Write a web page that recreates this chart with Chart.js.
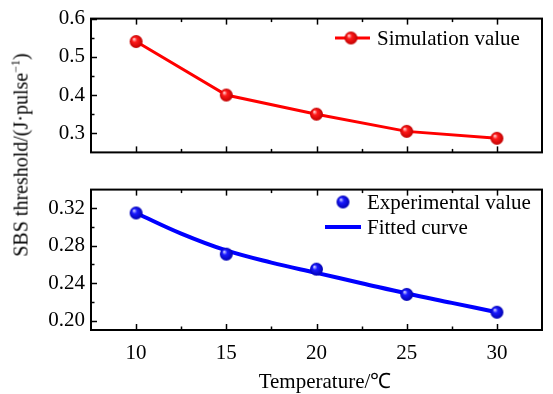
<!DOCTYPE html>
<html lang="en">
<head>
    <meta charset="UTF-8">
    <title>SBS threshold vs temperature</title>
    <script src="https://cdn.jsdelivr.net/npm/chart.js@4"></script>
    <style>
        body { margin: 0; background: #fff; }
        #wrap { position: relative; width: 553px; height: 394px; font-family: 'Times New Roman', 'Liberation Serif', serif; }
        .panel { position: absolute; left: 0; width: 553px; }
        #topPanel { top: 0; height: 171px; }
        #bottomPanel { top: 171px; height: 223px; }
        #yTitle {
            position: absolute; left: 21px; top: 155px; font-size: 20px; white-space: nowrap;
            transform: translate(-50%, -50%) rotate(-90deg);
        }
        #yTitle sup { font-size: 12px; line-height: 0; }
        #xTitle { position: absolute; left: 325px; top: 380px; font-size: 21px; white-space: nowrap; transform: translate(-50%, -50%); }
    </style>
</head>
<body>
    <div id="wrap">
        <div id="topPanel" class="panel"><canvas id="simChart"></canvas></div>
        <div id="bottomPanel" class="panel"><canvas id="expChart"></canvas></div>
        <div id="yTitle">SBS threshold/(J·pulse<sup>−1</sup>)</div>
        <div id="xTitle">Temperature/℃</div>
    </div>

    <script>
        // temperatures (℃)
        const temps = [10, 15, 20, 25, 30];
        // simulated threshold
        const simValues = [0.54, 0.40, 0.35, 0.305, 0.287];
        // measured threshold
        const expValues = [0.315, 0.271, 0.255, 0.228, 0.209];
        // fitted curve sampled along temperature
        const fitTemps = [10, 12.5, 15, 17.5, 20, 22.5, 25, 27.5, 30];
        const fitValues = [0.315, 0.293, 0.275, 0.262, 0.251, 0.240, 0.229, 0.219, 0.209];

        // tick labels
        const xTicks = [10, 15, 20, 25, 30];
        const simTicks = [0.3, 0.4, 0.5, 0.6];
        const expTicks = [0.20, 0.24, 0.28, 0.32];

        const serif = "'Times New Roman', 'Liberation Serif', serif";
        Chart.defaults.font.family = serif;
        Chart.defaults.font.size = 20;
        Chart.defaults.color = '#000';

        // shaded ball used as marker
        function sphere(r, light, mid, dark) {
            const c = document.createElement('canvas');
            const s = r * 2 + 2;
            c.width = c.height = s;
            const g = c.getContext('2d');
            const grad = g.createRadialGradient(s / 2 - r * 0.35, s / 2 - r * 0.4, r * 0.05, s / 2, s / 2, r);
            grad.addColorStop(0, light);
            grad.addColorStop(0.35, mid);
            grad.addColorStop(1, dark);
            g.fillStyle = grad;
            g.beginPath();
            g.arc(s / 2, s / 2, r, 0, Math.PI * 2);
            g.fill();
            return c;
        }
        const redBall = sphere(6.5, '#ffd6d6', '#ff1a1a', '#c00000');
        const blueBall = sphere(6.5, '#d6d6ff', '#1a1aff', '#0000b0');

        const midpoints = arr => arr.slice(1).map((v, i) => (v + arr[i]) / 2);

        // box frame + inward ticks on left, top and bottom
        const frameTicks = {
            id: 'frameTicks',
            afterDraw(chart, args, opts) {
                const { ctx, chartArea: a, scales: { x, y } } = chart;
                const seg = (x0, y0, x1, y1) => { ctx.beginPath(); ctx.moveTo(x0, y0); ctx.lineTo(x1, y1); ctx.stroke(); };
                ctx.save();
                ctx.strokeStyle = '#000';
                ctx.lineWidth = 1.5;
                [[xTicks, 6], [midpoints(xTicks), 3.5]].forEach(([vals, len]) => {
                    vals.forEach(v => {
                        const px = Math.round(x.getPixelForValue(v)) + 0.5;
                        seg(px, a.bottom, px, a.bottom - len);
                        seg(px, a.top, px, a.top + len);
                    });
                });
                [[opts.yTicks, 6], [midpoints(opts.yTicks), 3.5]].forEach(([vals, len]) => {
                    vals.forEach(v => {
                        const py = Math.round(y.getPixelForValue(v)) + 0.5;
                        seg(a.left, py, a.left + len, py);
                    });
                });
                ctx.lineWidth = 2;
                ctx.strokeRect(a.left, a.top, a.right - a.left, a.bottom - a.top);
                ctx.restore();
            }
        };

        // legend drawn by hand: line and/or ball, then label
        const handLegend = {
            id: 'handLegend',
            afterDraw(chart, args, opts) {
                const ctx = chart.ctx;
                ctx.save();
                ctx.font = '21px ' + serif;
                ctx.textBaseline = 'middle';
                ctx.fillStyle = '#000';
                opts.items.forEach(it => {
                    if (it.line) {
                        ctx.strokeStyle = it.color;
                        ctx.lineWidth = it.width;
                        ctx.beginPath();
                        ctx.moveTo(it.line[0], it.y);
                        ctx.lineTo(it.line[1], it.y);
                        ctx.stroke();
                    }
                    if (it.ball) {
                        ctx.drawImage(it.ball, it.ballX - it.ball.width / 2, it.y - it.ball.height / 2);
                    }
                    ctx.fillText(it.text, it.textX, it.y + 1);
                });
                ctx.restore();
            }
        };

        function yAxis(min, max, ticks, digits) {
            return {
                type: 'linear',
                min: min,
                max: max,
                grid: { display: false, drawTicks: false },
                border: { display: false },
                afterBuildTicks: s => { s.ticks = ticks.map(v => ({ value: v })); },
                afterFit: s => { s.width = 91; },
                ticks: { padding: 6, font: { family: serif, size: 21 }, callback: v => Number(v).toFixed(digits) }
            };
        }

        // 上: simulation
        new Chart(document.getElementById('simChart'), {
            type: 'line',
            data: {
                datasets: [{
                    label: 'Simulation value',
                    data: temps.map((t, i) => ({ x: t, y: simValues[i] })),
                    borderColor: '#ff0000',
                    borderWidth: 3,
                    pointStyle: redBall,
                    tension: 0
                }]
            },
            options: {
                responsive: true,
                maintainAspectRatio: false,
                animation: false,
                layout: { padding: { top: 14, right: 11, bottom: 10, left: 0 } },
                scales: {
                    x: { type: 'linear', min: 7.5, max: 32.5, display: false },
                    y: yAxis(0.25, 0.6, simTicks, 1)
                },
                plugins: {
                    legend: { display: false },
                    tooltip: { enabled: false },
                    frameTicks: { yTicks: simTicks },
                    handLegend: {
                        items: [{ text: 'Simulation value', color: '#ff0000', width: 3, line: [335, 370], ball: redBall, ballX: 351, y: 38, textX: 377 }]
                    }
                }
            },
            plugins: [frameTicks, handLegend]
        });

        // 下: experiment + fit
        new Chart(document.getElementById('expChart'), {
            type: 'line',
            data: {
                datasets: [{
                    label: 'Experimental value',
                    data: temps.map((t, i) => ({ x: t, y: expValues[i] })),
                    showLine: false,
                    pointStyle: blueBall
                }, {
                    label: 'Fitted curve',
                    data: fitTemps.map((t, i) => ({ x: t, y: fitValues[i] })),
                    borderColor: '#0000ff',
                    borderWidth: 4,
                    pointRadius: 0,
                    tension: 0.4
                }]
            },
            options: {
                responsive: true,
                maintainAspectRatio: false,
                animation: false,
                layout: { padding: { top: 12, right: 11, bottom: 0, left: 0 } },
                scales: {
                    x: {
                        type: 'linear',
                        min: 7.5,
                        max: 32.5,
                        grid: { display: false, drawTicks: false },
                        border: { display: false },
                        afterBuildTicks: s => { s.ticks = xTicks.map(v => ({ value: v })); },
                        afterFit: s => { s.height = 64; },
                        ticks: { padding: 11, maxRotation: 0, font: { family: serif, size: 21 } }
                    },
                    y: yAxis(0.19, 0.34, expTicks, 2)
                },
                plugins: {
                    legend: { display: false },
                    tooltip: { enabled: false },
                    frameTicks: { yTicks: expTicks },
                    handLegend: {
                        items: [
                            { text: 'Experimental value', ball: blueBall, ballX: 343, y: 31, textX: 367 },
                            { text: 'Fitted curve', color: '#0000ff', width: 4, line: [325, 361], y: 56, textX: 367 }
                        ]
                    }
                }
            },
            plugins: [frameTicks, handLegend]
        });
    </script>
</body>
</html>
